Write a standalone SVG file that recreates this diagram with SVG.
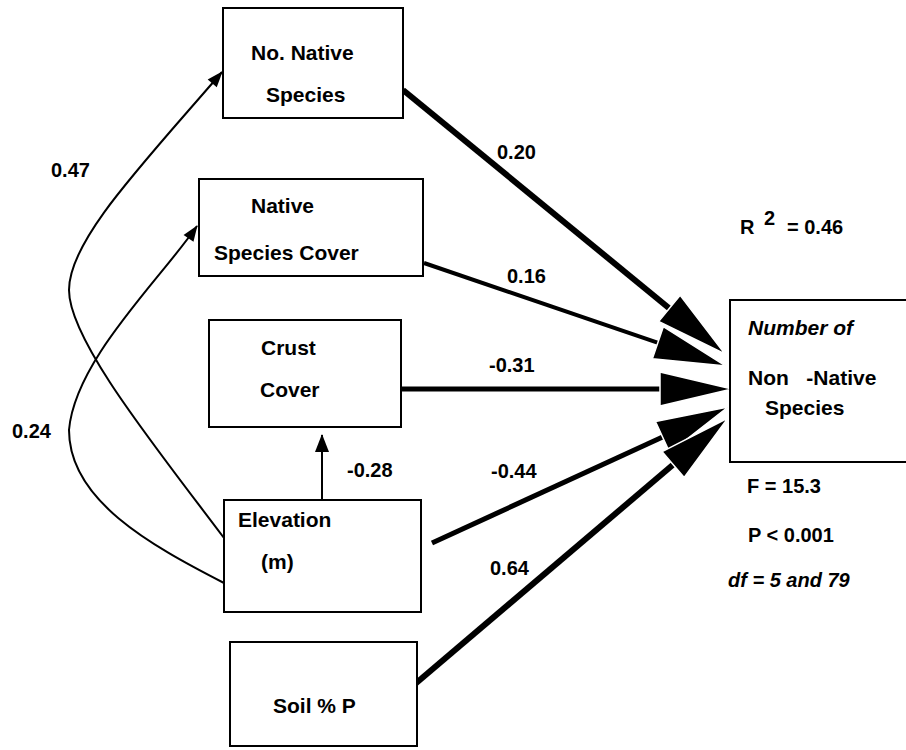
<svg xmlns="http://www.w3.org/2000/svg" width="906" height="750" viewBox="0 0 906 750">
  <style>
    .box { fill: #fff; stroke: #000; stroke-width: 2; }
    .lbl { font-family: "Liberation Sans", Arial, sans-serif; font-weight: bold; font-size: 21px; fill: #000; }
    .num { font-family: "Liberation Sans", Arial, sans-serif; font-weight: bold; font-size: 20px; fill: #000; }
    .it { font-style: italic; }
    .thin { fill: none; stroke: #000; stroke-width: 2; }
    .thick { fill: none; stroke: #000; }
  </style>
  <defs>
    <!-- large heavy arrowhead for the paths into the response box -->
    <marker id="bigHead" markerUnits="userSpaceOnUse" viewBox="0 0 72 34" markerWidth="72" markerHeight="34" refX="36" refY="17" orient="auto" overflow="visible">
      <path d="M0,0 L72,17 L0,34 Z" fill="#000" stroke="#fff" stroke-width="1.5"/>
    </marker>
    <!-- small arrowhead for the thin paths -->
    <marker id="smallHead" markerUnits="userSpaceOnUse" viewBox="0 0 16 12" markerWidth="16" markerHeight="12" refX="15" refY="6" orient="auto" overflow="visible">
      <path d="M0,0 L16,6 L0,12 Z" fill="#000"/>
    </marker>
    <!-- medium arrowhead for the short vertical path -->
    <marker id="midHead" markerUnits="userSpaceOnUse" viewBox="0 0 18 14" markerWidth="18" markerHeight="14" refX="17" refY="7" orient="auto" overflow="visible">
      <path d="M0,0 L18,7 L0,14 Z" fill="#000"/>
    </marker>
  </defs>

  <rect width="906" height="750" fill="#fff"/>

  <!-- connectors -->
  <g id="connectors">
    <!-- Elevation -> No. Native Species -->
    <path class="thin" d="M224,538 C154,445 69,340 69,290 C69,240 142,165 222,72" marker-end="url(#smallHead)"/>
    <!-- Elevation -> Native Species Cover -->
    <path class="thin" d="M224,583 C150,545 69,500 69,430 C75,360 160,280 197,226" marker-end="url(#smallHead)"/>
    <!-- Elevation -> Crust Cover -->
    <path class="thin" d="M322,500 L322,435" stroke-width="3" marker-end="url(#midHead)"/>
    <!-- predictors -> Number of Non-Native Species -->
    <path class="thick" d="M403,90 L697.2,331.2" stroke-width="6" marker-end="url(#bigHead)"/>
    <path class="thick" d="M424,263 L691.9,354.4" stroke-width="4" marker-end="url(#bigHead)"/>
    <path class="thick" d="M401,389 L696,389" stroke-width="5" marker-end="url(#bigHead)"/>
    <path class="thick" d="M432,543 L695.3,422" stroke-width="5" marker-end="url(#bigHead)"/>
    <path class="thick" d="M408,690 L700.6,441.3" stroke-width="6" marker-end="url(#bigHead)"/>
  </g>

  <!-- path coefficients -->
  <g id="coefficients">
    <text class="num" x="51" y="177">0.47</text>
    <text class="num" x="12" y="438">0.24</text>
    <text class="num" x="347" y="477">-0.28</text>
    <text class="num" x="497" y="159">0.20</text>
    <text class="num" x="507" y="283">0.16</text>
    <text class="num" x="489" y="372">-0.31</text>
    <text class="num" x="491" y="478">-0.44</text>
    <text class="num" x="490" y="575">0.64</text>
  </g>

  <g id="no-native-species">
    <rect class="box" x="223" y="8" width="180" height="110"/>
    <text class="lbl" x="251" y="60">No. Native</text>
    <text class="lbl" x="266" y="102">Species</text>
  </g>

  <g id="native-species-cover">
    <rect class="box" x="199" y="179" width="224" height="97"/>
    <text class="lbl" x="251" y="213">Native</text>
    <text class="lbl" x="214" y="260">Species Cover</text>
  </g>

  <g id="crust-cover">
    <rect class="box" x="209" y="320" width="192" height="107"/>
    <text class="lbl" x="261" y="355">Crust</text>
    <text class="lbl" x="260" y="397">Cover</text>
  </g>

  <g id="elevation">
    <rect class="box" x="224" y="500" width="197" height="112"/>
    <text class="lbl" x="238" y="527">Elevation</text>
    <text class="lbl" x="261" y="569">(m)</text>
  </g>

  <g id="soil-p">
    <rect class="box" x="230" y="642" width="187" height="104"/>
    <text class="lbl" x="273" y="713">Soil % P</text>
  </g>

  <g id="non-native-species">
    <rect class="box" x="730" y="300" width="190" height="162"/>
    <text class="lbl it" x="748" y="335">Number of</text>
    <text class="lbl" x="748" y="385" xml:space="preserve">Non   -Native</text>
    <text class="lbl" x="765" y="415">Species</text>
  </g>

  <!-- model statistics -->
  <g id="statistics">
    <text class="num" x="740" y="234">R</text>
    <text class="num" x="764" y="225" font-size="15">2</text>
    <text class="num" x="787" y="234">= 0.46</text>
    <text class="num" x="747" y="493">F = 15.3</text>
    <text class="num" x="748" y="542">P &lt; 0.001</text>
    <text class="num it" x="728" y="587">df = 5 and 79</text>
  </g>
</svg>
